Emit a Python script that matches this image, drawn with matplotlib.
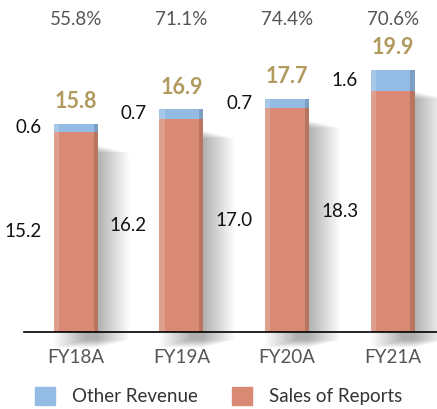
import numpy as np
import matplotlib
matplotlib.use("Agg")
import matplotlib.pyplot as plt
from matplotlib.patches import Patch

plt.rcParams['font.family'] = ['Lato', 'DejaVu Sans']

years = ["FY18A", "FY19A", "FY20A", "FY21A"]
sales = [15.2, 16.2, 17.0, 18.3]
other = [0.6, 0.7, 0.7, 1.6]
totals = [15.8, 16.9, 17.7, 19.9]
pcts = ["55.8%", "71.1%", "74.4%", "70.6%"]

blue = "#93bbe4"
red = "#d98a74"
gold = "#b09a5e"
grey = "#555555"

fig = plt.figure(figsize=(4.37, 4.09), dpi=100)
ax = fig.add_axes([24/437, 77/409, 1 - 24/437, 332/409])

x = np.arange(len(years))
w = 0.416
tot = np.array(totals)

# soft shadow to the right of each bar (stacked translucent layers)
for off in np.linspace(0.0, 0.30, 40):
    ax.bar(x + off, tot - 0.4 - off * 4, width=w, bottom=-1.2 + off * 2, color="black",
           alpha=0.007, linewidth=0, zorder=1, clip_on=False)

ax.bar(x, sales, width=w, color=red, linewidth=0, zorder=3)
ax.bar(x, other, width=w, bottom=sales, color=blue, linewidth=0, zorder=3)

# edge shading on bars
ax.bar(x - w/2 + 0.025, totals, width=0.05, color="white", alpha=0.18, linewidth=0, zorder=4)
ax.bar(x + w/2 - 0.02, totals, width=0.04, color="black", alpha=0.15, linewidth=0, zorder=4)

for i in range(len(years)):
    ax.annotate(f"{sales[i]:.1f}", (x[i] - w/2, sales[i]/2), xytext=(-9, 0),
                textcoords="offset points", ha="right", va="center",
                fontsize=13.5, color="#111111")
    ax.annotate(f"{other[i]:.1f}", (x[i] - w/2, sales[i] + other[i]/2), xytext=(-9, 0),
                textcoords="offset points", ha="right", va="center",
                fontsize=13.5, color="#111111")
    ax.annotate(f"{totals[i]:.1f}", (x[i], totals[i]), xytext=(0, 16),
                textcoords="offset points", ha="center", va="center",
                fontsize=15.5, fontweight="bold", color=gold)
    ax.text(x[i], 23.7, pcts[i], ha="center", va="center", fontsize=13.5, color=grey)

ax.set_xlim(-0.49, 3.42)
ax.set_ylim(0, 25.2)
ax.set_xticks(x)
ax.set_xticklabels(years, fontsize=13.5, color=grey)
ax.tick_params(axis="x", length=0, pad=12)
ax.set_yticks([])
for s in ["top", "right", "left"]:
    ax.spines[s].set_visible(False)
ax.spines["bottom"].set_color("black")
ax.spines["bottom"].set_linewidth(1.2)
ax.spines["bottom"].set_zorder(5)

handles = [Patch(color=blue, label="Other Revenue"), Patch(color=red, label="Sales of Reports")]
fig.legend(handles=handles, loc="center", bbox_to_anchor=(0.50, 0.032), ncol=2,
           frameon=False, fontsize=13.5, handlelength=1.1, handleheight=1.1,
           columnspacing=1.8, handletextpad=0.9, labelcolor="#333333")

fig.savefig("out.png", dpi=100)
